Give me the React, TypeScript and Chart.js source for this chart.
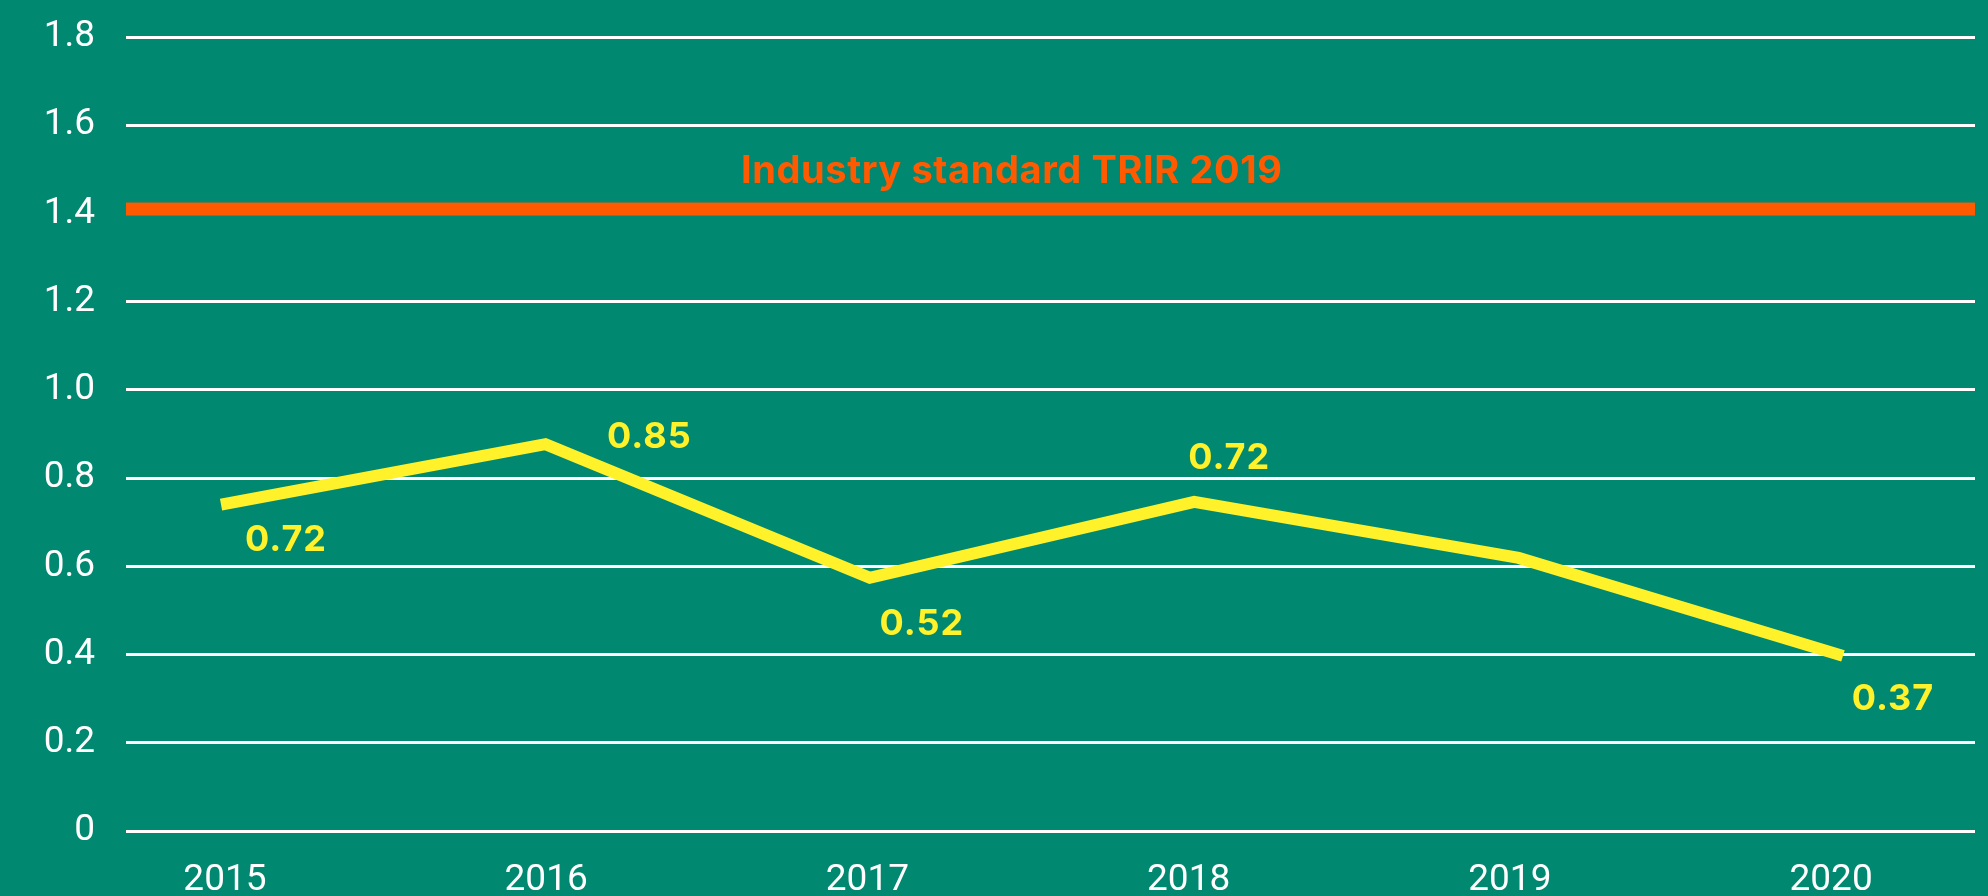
import React, { useEffect, useRef } from "react";
import { Chart, registerables } from "chart.js";

Chart.register(...registerables);

const years = [2015, 2016, 2017, 2018, 2019, 2020];
const trirValues = [0.74, 0.877, 0.574, 0.746, 0.619, 0.397];
const valueLabels = ["0.72", "0.85", "0.52", "0.72", "", "0.37"];
const yTickValues = [0, 0.2, 0.4, 0.6, 0.8, 1.0, 1.2, 1.4, 1.6, 1.8];
const industryStandard = 1.41;
const industryLabel = "Industry standard TRIR 2019";

const BG = "#008870";
const YELLOW = "#FFF22B";
const ORANGE = "#FF5A00";

// label offsets relative to each point (center x, baseline y)
const labelOffsets: [number, number][] = [
  [65, 46],
  [104, 4],
  [52, 57],
  [35, -33],
  [0, 0],
  [50, 54],
];

const overlayPlugin = {
  id: "overlay",
  beforeDatasetsDraw(chart: any) {
    const { ctx, chartArea, scales } = chart;
    const y = scales.y.getPixelForValue(industryStandard);
    ctx.save();
    ctx.fillStyle = ORANGE;
    ctx.fillRect(chartArea.left, y - 6.5, chartArea.right - chartArea.left, 13);
    ctx.font = "bold 38px Inter";
    ctx.textAlign = "center";
    ctx.textBaseline = "alphabetic";
    try {
      (ctx as any).letterSpacing = "0.6px";
    } catch (e) {}
    const cx = chartArea.left + (chartArea.right - chartArea.left) * 0.479;
    ctx.fillText(industryLabel, cx, y - 26.5);
    ctx.restore();
  },
  afterDatasetsDraw(chart: any) {
    const { ctx } = chart;
    const meta = chart.getDatasetMeta(0);
    ctx.save();
    ctx.fillStyle = YELLOW;
    ctx.font = "bold 36px Inter";
    ctx.textAlign = "center";
    ctx.textBaseline = "alphabetic";
    try {
      (ctx as any).letterSpacing = "1px";
    } catch (e) {}
    meta.data.forEach((pt: any, i: number) => {
      const txt = valueLabels[i];
      if (!txt) return;
      const [dx, dy] = labelOffsets[i];
      ctx.fillText(txt, pt.x + dx, pt.y + dy);
    });
    ctx.restore();
  },
};

export default function App() {
  const ref = useRef<HTMLCanvasElement | null>(null);

  useEffect(() => {
    if (!ref.current) return;
    const chart = new Chart(ref.current, {
      type: "line",
      data: {
        datasets: [
          {
            data: years.map((yr, i) => ({ x: yr, y: trirValues[i] })),
            borderColor: YELLOW,
            borderWidth: 12,
            borderCapStyle: "butt",
            borderJoinStyle: "miter",
            pointRadius: 0,
            pointHoverRadius: 0,
            tension: 0,
            fill: false,
            xAxisID: "x",
            yAxisID: "y",
          },
        ],
      },
      options: {
        animation: false,
        responsive: false,
        maintainAspectRatio: false,
        events: [],
        layout: { padding: { top: 37, right: 13, bottom: 0, left: 0 } },
        plugins: {
          legend: { display: false },
          tooltip: { enabled: false },
          title: { display: false },
        },
        scales: {
          x: {
            type: "linear",
            display: false,
            min: 2014.707,
            max: 2020.407,
          },
          xLabels: {
            type: "linear",
            position: "bottom",
            min: 2014.692,
            max: 2020.448,
            grid: { display: false, drawTicks: false },
            border: { display: false },
            afterBuildTicks: (s: any) => {
              s.ticks = years.map((v) => ({ value: v }));
            },
            afterFit: (s: any) => {
              s.height = 65;
              s.paddingLeft = 0;
              s.paddingRight = 0;
            },
            ticks: {
              color: "#ffffff",
              font: { family: "Roboto", size: 37 },
              padding: 28,
              autoSkip: false,
              maxRotation: 0,
              callback: (v: any) => String(v),
            },
          },
          y: {
            type: "linear",
            min: 0,
            max: 1.8,
            grid: { color: "#ffffff", lineWidth: 3, drawTicks: false },
            border: { display: false },
            afterBuildTicks: (s: any) => {
              s.ticks = yTickValues.map((v) => ({ value: v }));
            },
            afterFit: (s: any) => {
              s.width = 126;
              s.paddingTop = 0;
              s.paddingBottom = 0;
            },
            ticks: {
              color: "#ffffff",
              font: { family: "Roboto", size: 37 },
              padding: 31,
              labelOffset: 0,
              callback: (v: any) => (v === 0 ? "0" : Number(v).toFixed(1)),
            },
          },
        },
      },
      plugins: [overlayPlugin],
    });
    return () => chart.destroy();
  }, []);

  return (
    <div
      style={{
        position: "absolute",
        left: 0,
        top: 0,
        width: 1988,
        height: 896,
        background: BG,
      }}
    >
      <canvas ref={ref} width={1988} height={896} style={{ display: "block" }} />
    </div>
  );
}
